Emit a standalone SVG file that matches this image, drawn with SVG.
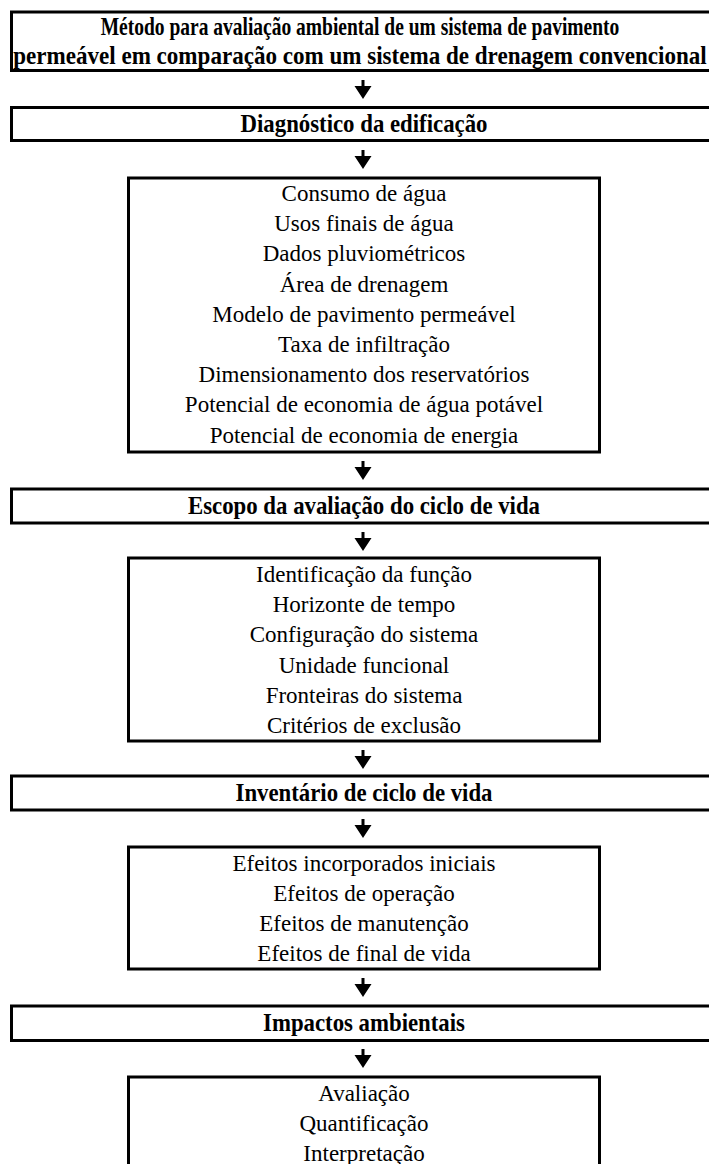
<svg xmlns="http://www.w3.org/2000/svg" width="709" height="1164" viewBox="0 0 709 1164">
<style>
.box{fill:#fff;stroke:#000;stroke-width:3}
.h{font-family:"Liberation Serif","Times New Roman",serif;font-weight:bold;font-size:26px;text-anchor:middle;fill:#000}
.t{font-family:"Liberation Serif","Times New Roman",serif;font-size:23px;text-anchor:middle;fill:#000}
.arr{fill:#000}
</style>
<defs>
<path id="arrow" d="M-1.5,0 H1.5 V6 H8.5 L0,19 L-8.5,6 H-1.5 Z"/>
</defs>
<rect width="709" height="1164" fill="#fff"/>
<g id="connectors" class="arr">
<use href="#arrow" x="363" y="80"/>
<use href="#arrow" x="363" y="150"/>
<use href="#arrow" x="363" y="461"/>
<use href="#arrow" x="363" y="532"/>
<use href="#arrow" x="363" y="750"/>
<use href="#arrow" x="363" y="819"/>
<use href="#arrow" x="363" y="978"/>
<use href="#arrow" x="363" y="1049"/>
</g>
<g id="titulo">
<rect class="box" x="11.5" y="12" width="712" height="58.5"/>
<text class="h" transform="translate(360,35) scale(0.75,1)">Método para avaliação ambiental de um sistema de pavimento</text>
<text class="h" transform="translate(360,64) scale(0.887,1)">permeável em comparação com um sistema de drenagem convencional</text>
</g>
<g id="diagnostico">
<rect class="box" x="11.5" y="107.5" width="712" height="33"/>
<text class="h" transform="translate(364,132) scale(0.877,1)">Diagnóstico da edificação</text>
</g>
<g id="diagnostico-itens">
<rect class="box" x="128.5" y="178" width="471" height="274"/>
<text class="t" x="364" y="201">Consumo de água</text>
<text class="t" x="364" y="231">Usos finais de água</text>
<text class="t" x="364" y="261">Dados pluviométricos</text>
<text class="t" x="364" y="292">Área de drenagem</text>
<text class="t" x="364" y="322">Modelo de pavimento permeável</text>
<text class="t" x="364" y="352">Taxa de infiltração</text>
<text class="t" x="364" y="382">Dimensionamento dos reservatórios</text>
<text class="t" x="364" y="412">Potencial de economia de água potável</text>
<text class="t" x="364" y="443">Potencial de economia de energia</text>
</g>
<g id="escopo">
<rect class="box" x="11.5" y="489" width="712" height="34"/>
<text class="h" transform="translate(364,514) scale(0.877,1)">Escopo da avaliação do ciclo de vida</text>
</g>
<g id="escopo-itens">
<rect class="box" x="128.5" y="558" width="471" height="183"/>
<text class="t" x="364" y="582">Identificação da função</text>
<text class="t" x="364" y="612">Horizonte de tempo</text>
<text class="t" x="364" y="642">Configuração do sistema</text>
<text class="t" x="364" y="673">Unidade funcional</text>
<text class="t" x="364" y="703">Fronteiras do sistema</text>
<text class="t" x="364" y="733">Critérios de exclusão</text>
</g>
<g id="inventario">
<rect class="box" x="11.5" y="776" width="712" height="34"/>
<text class="h" transform="translate(364,801) scale(0.877,1)">Inventário de ciclo de vida</text>
</g>
<g id="inventario-itens">
<rect class="box" x="128.5" y="847" width="471" height="122"/>
<text class="t" x="364" y="871">Efeitos incorporados iniciais</text>
<text class="t" x="364" y="901">Efeitos de operação</text>
<text class="t" x="364" y="931">Efeitos de manutenção</text>
<text class="t" x="364" y="961">Efeitos de final de vida</text>
</g>
<g id="impactos">
<rect class="box" x="11.5" y="1006" width="712" height="34.5"/>
<text class="h" transform="translate(364,1031) scale(0.877,1)">Impactos ambientais</text>
</g>
<g id="impactos-itens">
<rect class="box" x="128.5" y="1077" width="471" height="120"/>
<text class="t" x="364" y="1101">Avaliação</text>
<text class="t" x="364" y="1131">Quantificação</text>
<text class="t" x="364" y="1161">Interpretação</text>
</g>
</svg>
